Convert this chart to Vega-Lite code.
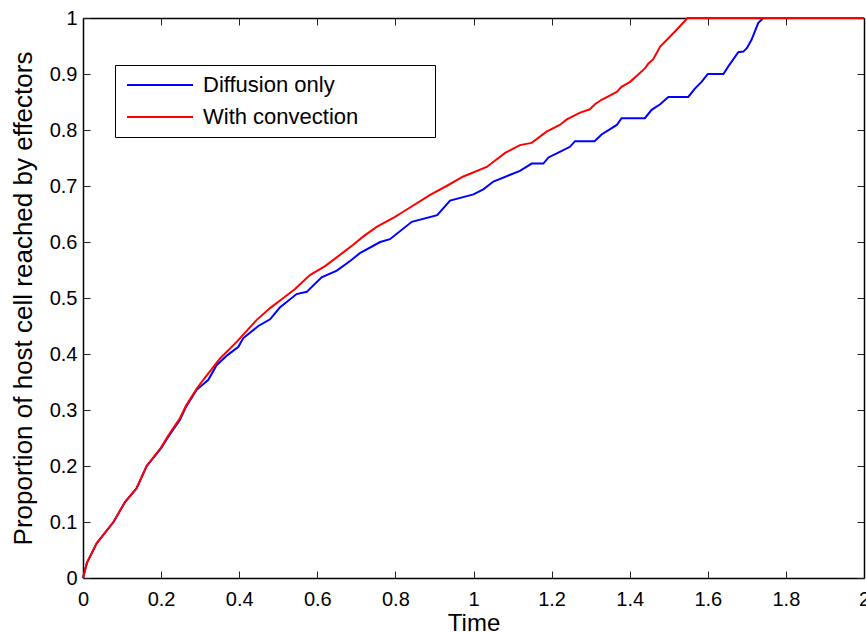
{
  "$schema": "https://vega.github.io/schema/vega-lite/v6.json",
  "width": 781,
  "height": 560,
  "autosize": {"type": "none"},
  "padding": {"left": 83, "top": 18, "right": 2, "bottom": 54},
  "background": "white",
  "config": {
    "view": {"stroke": null},
    "font": "Liberation Sans",
    "axis": {
      "grid": false,
      "domainColor": "black",
      "domainWidth": 1.5,
      "tickColor": "#222222",
      "tickWidth": 1,
      "tickSize": -7,
      "labelFont": "Liberation Sans",
      "labelFontSize": 20,
      "labelColor": "black",
      "titleFont": "Liberation Sans",
      "titleFontWeight": "normal",
      "titleColor": "black"
    }
  },
  "data": {
    "values": [
      {"t": 0, "p": 0, "s": "Diffusion only"},
      {"t": 0.01, "p": 0.027, "s": "Diffusion only"},
      {"t": 0.035, "p": 0.062, "s": "Diffusion only"},
      {"t": 0.078, "p": 0.1, "s": "Diffusion only"},
      {"t": 0.108, "p": 0.136, "s": "Diffusion only"},
      {"t": 0.137, "p": 0.16, "s": "Diffusion only"},
      {"t": 0.163, "p": 0.2, "s": "Diffusion only"},
      {"t": 0.2, "p": 0.232, "s": "Diffusion only"},
      {"t": 0.218, "p": 0.252, "s": "Diffusion only"},
      {"t": 0.248, "p": 0.282, "s": "Diffusion only"},
      {"t": 0.264, "p": 0.306, "s": "Diffusion only"},
      {"t": 0.291, "p": 0.336, "s": "Diffusion only"},
      {"t": 0.321, "p": 0.354, "s": "Diffusion only"},
      {"t": 0.342, "p": 0.38, "s": "Diffusion only"},
      {"t": 0.37, "p": 0.398, "s": "Diffusion only"},
      {"t": 0.398, "p": 0.413, "s": "Diffusion only"},
      {"t": 0.41, "p": 0.428, "s": "Diffusion only"},
      {"t": 0.449, "p": 0.45, "s": "Diffusion only"},
      {"t": 0.479, "p": 0.462, "s": "Diffusion only"},
      {"t": 0.504, "p": 0.483, "s": "Diffusion only"},
      {"t": 0.547, "p": 0.507, "s": "Diffusion only"},
      {"t": 0.573, "p": 0.511, "s": "Diffusion only"},
      {"t": 0.611, "p": 0.537, "s": "Diffusion only"},
      {"t": 0.65, "p": 0.549, "s": "Diffusion only"},
      {"t": 0.684, "p": 0.566, "s": "Diffusion only"},
      {"t": 0.709, "p": 0.58, "s": "Diffusion only"},
      {"t": 0.761, "p": 0.6, "s": "Diffusion only"},
      {"t": 0.786, "p": 0.605, "s": "Diffusion only"},
      {"t": 0.842, "p": 0.636, "s": "Diffusion only"},
      {"t": 0.907, "p": 0.648, "s": "Diffusion only"},
      {"t": 0.94, "p": 0.674, "s": "Diffusion only"},
      {"t": 1.0, "p": 0.685, "s": "Diffusion only"},
      {"t": 1.025, "p": 0.694, "s": "Diffusion only"},
      {"t": 1.051, "p": 0.708, "s": "Diffusion only"},
      {"t": 1.119, "p": 0.727, "s": "Diffusion only"},
      {"t": 1.149, "p": 0.74, "s": "Diffusion only"},
      {"t": 1.179, "p": 0.74, "s": "Diffusion only"},
      {"t": 1.192, "p": 0.751, "s": "Diffusion only"},
      {"t": 1.221, "p": 0.761, "s": "Diffusion only"},
      {"t": 1.247, "p": 0.77, "s": "Diffusion only"},
      {"t": 1.26, "p": 0.78, "s": "Diffusion only"},
      {"t": 1.31, "p": 0.78, "s": "Diffusion only"},
      {"t": 1.328, "p": 0.792, "s": "Diffusion only"},
      {"t": 1.367, "p": 0.809, "s": "Diffusion only"},
      {"t": 1.379, "p": 0.821, "s": "Diffusion only"},
      {"t": 1.439, "p": 0.821, "s": "Diffusion only"},
      {"t": 1.456, "p": 0.836, "s": "Diffusion only"},
      {"t": 1.478, "p": 0.846, "s": "Diffusion only"},
      {"t": 1.499, "p": 0.859, "s": "Diffusion only"},
      {"t": 1.55, "p": 0.859, "s": "Diffusion only"},
      {"t": 1.567, "p": 0.874, "s": "Diffusion only"},
      {"t": 1.584, "p": 0.886, "s": "Diffusion only"},
      {"t": 1.6, "p": 0.9, "s": "Diffusion only"},
      {"t": 1.64, "p": 0.9, "s": "Diffusion only"},
      {"t": 1.653, "p": 0.914, "s": "Diffusion only"},
      {"t": 1.678, "p": 0.939, "s": "Diffusion only"},
      {"t": 1.691, "p": 0.94, "s": "Diffusion only"},
      {"t": 1.7, "p": 0.946, "s": "Diffusion only"},
      {"t": 1.712, "p": 0.961, "s": "Diffusion only"},
      {"t": 1.729, "p": 0.991, "s": "Diffusion only"},
      {"t": 1.742, "p": 1.0, "s": "Diffusion only"},
      {"t": 2.0, "p": 1.0, "s": "Diffusion only"},
      {"t": 0, "p": 0, "s": "With convection"},
      {"t": 0.01, "p": 0.027, "s": "With convection"},
      {"t": 0.035, "p": 0.062, "s": "With convection"},
      {"t": 0.078, "p": 0.1, "s": "With convection"},
      {"t": 0.108, "p": 0.136, "s": "With convection"},
      {"t": 0.137, "p": 0.16, "s": "With convection"},
      {"t": 0.163, "p": 0.2, "s": "With convection"},
      {"t": 0.2, "p": 0.233, "s": "With convection"},
      {"t": 0.218, "p": 0.254, "s": "With convection"},
      {"t": 0.248, "p": 0.285, "s": "With convection"},
      {"t": 0.264, "p": 0.308, "s": "With convection"},
      {"t": 0.291, "p": 0.338, "s": "With convection"},
      {"t": 0.308, "p": 0.354, "s": "With convection"},
      {"t": 0.351, "p": 0.392, "s": "With convection"},
      {"t": 0.394, "p": 0.422, "s": "With convection"},
      {"t": 0.445, "p": 0.461, "s": "With convection"},
      {"t": 0.479, "p": 0.482, "s": "With convection"},
      {"t": 0.513, "p": 0.5, "s": "With convection"},
      {"t": 0.543, "p": 0.516, "s": "With convection"},
      {"t": 0.581, "p": 0.541, "s": "With convection"},
      {"t": 0.62, "p": 0.557, "s": "With convection"},
      {"t": 0.658, "p": 0.577, "s": "With convection"},
      {"t": 0.692, "p": 0.595, "s": "With convection"},
      {"t": 0.718, "p": 0.61, "s": "With convection"},
      {"t": 0.752, "p": 0.627, "s": "With convection"},
      {"t": 0.799, "p": 0.645, "s": "With convection"},
      {"t": 0.82, "p": 0.654, "s": "With convection"},
      {"t": 0.889, "p": 0.684, "s": "With convection"},
      {"t": 0.931, "p": 0.7, "s": "With convection"},
      {"t": 0.974, "p": 0.717, "s": "With convection"},
      {"t": 1.034, "p": 0.734, "s": "With convection"},
      {"t": 1.081, "p": 0.759, "s": "With convection"},
      {"t": 1.119, "p": 0.773, "s": "With convection"},
      {"t": 1.149, "p": 0.777, "s": "With convection"},
      {"t": 1.187, "p": 0.797, "s": "With convection"},
      {"t": 1.221, "p": 0.809, "s": "With convection"},
      {"t": 1.239, "p": 0.819, "s": "With convection"},
      {"t": 1.273, "p": 0.831, "s": "With convection"},
      {"t": 1.298, "p": 0.837, "s": "With convection"},
      {"t": 1.311, "p": 0.846, "s": "With convection"},
      {"t": 1.328, "p": 0.854, "s": "With convection"},
      {"t": 1.35, "p": 0.862, "s": "With convection"},
      {"t": 1.367, "p": 0.868, "s": "With convection"},
      {"t": 1.379, "p": 0.877, "s": "With convection"},
      {"t": 1.401, "p": 0.886, "s": "With convection"},
      {"t": 1.439, "p": 0.91, "s": "With convection"},
      {"t": 1.448, "p": 0.919, "s": "With convection"},
      {"t": 1.46, "p": 0.926, "s": "With convection"},
      {"t": 1.478, "p": 0.949, "s": "With convection"},
      {"t": 1.516, "p": 0.976, "s": "With convection"},
      {"t": 1.548, "p": 1.0, "s": "With convection"},
      {"t": 2.0, "p": 1.0, "s": "With convection"}
    ]
  },
  "layer": [
    {
      "mark": {"type": "line", "strokeWidth": 2, "interpolate": "linear"},
      "encoding": {
        "x": {
          "field": "t", "type": "quantitative",
          "scale": {"domain": [0, 2], "nice": false, "zero": false},
          "axis": {
            "orient": "bottom",
            "values": [0, 0.2, 0.4, 0.6, 0.8, 1, 1.2, 1.4, 1.6, 1.8, 2],
            "format": "~g",
            "labelPadding": 18.5,
            "labelFlush": false,
            "title": "Time",
            "titleFontSize": 24,
            "titleX": 390.5,
            "titleY": 52,
            "titleAlign": "center",
            "titleBaseline": "alphabetic"
          }
        },
        "y": {
          "field": "p", "type": "quantitative",
          "scale": {"domain": [0, 1], "nice": false, "zero": false},
          "axis": {
            "orient": "left",
            "values": [0, 0.1, 0.2, 0.3, 0.4, 0.5, 0.6, 0.7, 0.8, 0.9, 1],
            "format": "~g",
            "labelPadding": 13,
            "labelFlush": false,
            "title": "Proportion of host cell reached by effectors",
            "titleFontSize": 26,
            "titleAngle": -90,
            "titleX": -51.4,
            "titleY": 280,
            "titleAlign": "center",
            "titleBaseline": "alphabetic"
          }
        },
        "color": {
          "field": "s", "type": "nominal",
          "scale": {"domain": ["Diffusion only", "With convection"], "range": ["#0000ff", "#ff0000"]},
          "legend": {
            "title": null,
            "orient": "none",
            "legendX": 32,
            "legendY": 47,
            "padding": 9,
            "strokeColor": "black",
            "fillColor": "white",
            "cornerRadius": 0,
            "symbolType": "M-6,0H6",
            "symbolSize": 121,
            "symbolStrokeWidth": 2,
            "symbolOffset": 25,
            "labelOffset": 32,
            "labelFont": "Liberation Sans",
            "labelFontSize": 22,
            "labelColor": "black",
            "labelLimit": 500,
            "rowPadding": 10,
            "labelExpr": "datum.label + '\u00a0\u00a0\u00a0\u00a0\u00a0\u00a0\u00a0\u00a0\u00a0\u00a0\u00a0\u200b'"
          }
        }
      }
    },
    {
      "mark": {"type": "point", "opacity": 0},
      "encoding": {
        "x": {
          "field": "t", "type": "quantitative",
          "axis": {"orient": "top", "values": [0, 0.2, 0.4, 0.6, 0.8, 1, 1.2, 1.4, 1.6, 1.8, 2], "labels": false, "title": null}
        },
        "y": {
          "field": "p", "type": "quantitative",
          "axis": {"orient": "right", "values": [0, 0.1, 0.2, 0.3, 0.4, 0.5, 0.6, 0.7, 0.8, 0.9, 1], "labels": false, "title": null}
        }
      }
    }
  ],
  "resolve": {"axis": {"x": "independent", "y": "independent"}}
}
